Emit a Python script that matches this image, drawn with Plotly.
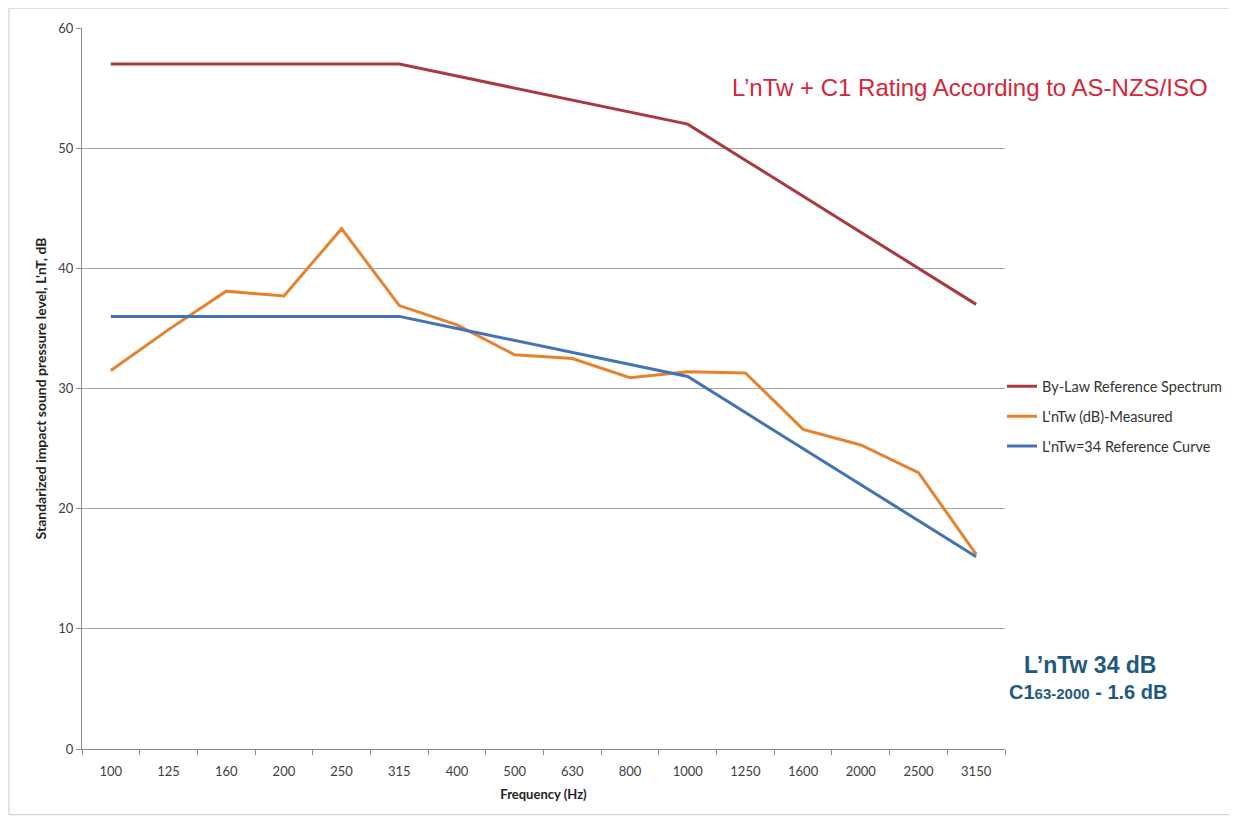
import plotly.graph_objects as go

freqs = ["100", "125", "160", "200", "250", "315", "400", "500", "630", "800",
         "1000", "1250", "1600", "2000", "2500", "3150"]
bylaw = [57, 57, 57, 57, 57, 57, 56, 55, 54, 53, 52, 49, 46, 43, 40, 37]
measured = [31.5, 34.9, 38.1, 37.7, 43.3, 36.9, 35.3, 32.8, 32.5, 30.9,
            31.4, 31.3, 26.6, 25.3, 23.0, 16.2]
reference = [36, 36, 36, 36, 36, 36, 35, 34, 33, 32, 31, 28, 25, 22, 19, 16]
y_ticks = [0, 10, 20, 30, 40, 50, 60]

fig = go.Figure()
fig.add_trace(go.Scatter(x=freqs, y=bylaw, mode="lines", name="By-Law Reference Spectrum",
                         legendgroup="a", line=dict(color="#a8393f", width=3)))
fig.add_trace(go.Scatter(x=freqs, y=measured, mode="lines", name="L'nTw (dB)-Measured",
                         legendgroup="b", line=dict(color="#e5822e", width=3)))
fig.add_trace(go.Scatter(x=freqs, y=reference, mode="lines", name="L'nTw=34 Reference Curve",
                         legendgroup="c", line=dict(color="#4373b3", width=3)))

# page body adds an 8px offset; plot area on screen: x 82..1005, y 25..749
PL, PT, PW, PH = 82, 25, 923, 724


def px(x):
    return (x - PL) / PW


def py(y):
    return (PT + PH - y) / PH


fig.update_layout(
    width=1237, height=818,
    margin=dict(l=PL - 8, r=1237 - (PL - 8) - PW, t=PT - 8, b=818 - (PT - 8) - PH),
    paper_bgcolor="white", plot_bgcolor="white",
    font=dict(family="Lato, Open Sans, sans-serif", color="#404040", size=12),
    showlegend=True,
    legend=dict(x=px(1002), xanchor="left", y=py(415), yanchor="middle",
                font=dict(size=14.5, color="#333333"), bgcolor="rgba(0,0,0,0)",
                itemwidth=30, tracegroupgap=8),
    xaxis=dict(type="category", tickson="boundaries", ticks="outside", ticklen=5,
               tickcolor="#8c8c8c", showline=True, linecolor="#8c8c8c", linewidth=1,
               showgrid=False, tickfont=dict(size=13, color="#404040"),
               ticklabelstandoff=10,
               title=dict(text="<b>Frequency (Hz)</b>", font=dict(size=13, color="#222222"),
                          standoff=12),
               range=[-0.5, 15.5]),
    yaxis=dict(range=[0, 60], tickvals=y_ticks, ticks="outside", ticklen=5,
               tickcolor="#8c8c8c", showline=True, linecolor="#8c8c8c", linewidth=1,
               showgrid=True, gridcolor="#a6a6a6", gridwidth=1, zeroline=False,
               tickfont=dict(size=13, color="#404040"),
               title=dict(text="<b>Standarized impact sound pressure level, L'nT, dB</b>",
                          font=dict(size=14, color="#222222"), standoff=8)),
)

fig.add_annotation(text="L’nTw + C1 Rating According to AS-NZS/ISO", xref="paper", yref="paper",
                   x=px(970), y=py(85), xanchor="center", yanchor="middle", showarrow=False,
                   font=dict(family="Liberation Sans, Arial", size=24, color="#d3263a"))
fig.add_annotation(text="<b>L’nTw 34 dB</b>", xref="paper", yref="paper",
                   x=px(1090), y=py(665), xanchor="center", yanchor="middle", showarrow=False,
                   font=dict(family="Liberation Sans, Arial", size=23, color="#1f5a7e"))
fig.add_annotation(text="<b>C1<span style='font-size:15px'>63-2000</span> - 1.6 dB</b>",
                   xref="paper", yref="paper",
                   x=px(1088), y=py(692), xanchor="center", yanchor="middle", showarrow=False,
                   font=dict(family="Liberation Sans, Arial", size=20, color="#1f5a7e"))

# outer chart frame
fig.add_shape(type="rect", xref="paper", yref="paper",
              x0=px(9), x1=px(1240), y0=py(815), y1=py(5),
              line=dict(color="#c8c8c8", width=1), layer="below")

fig.write_html("out.html")
